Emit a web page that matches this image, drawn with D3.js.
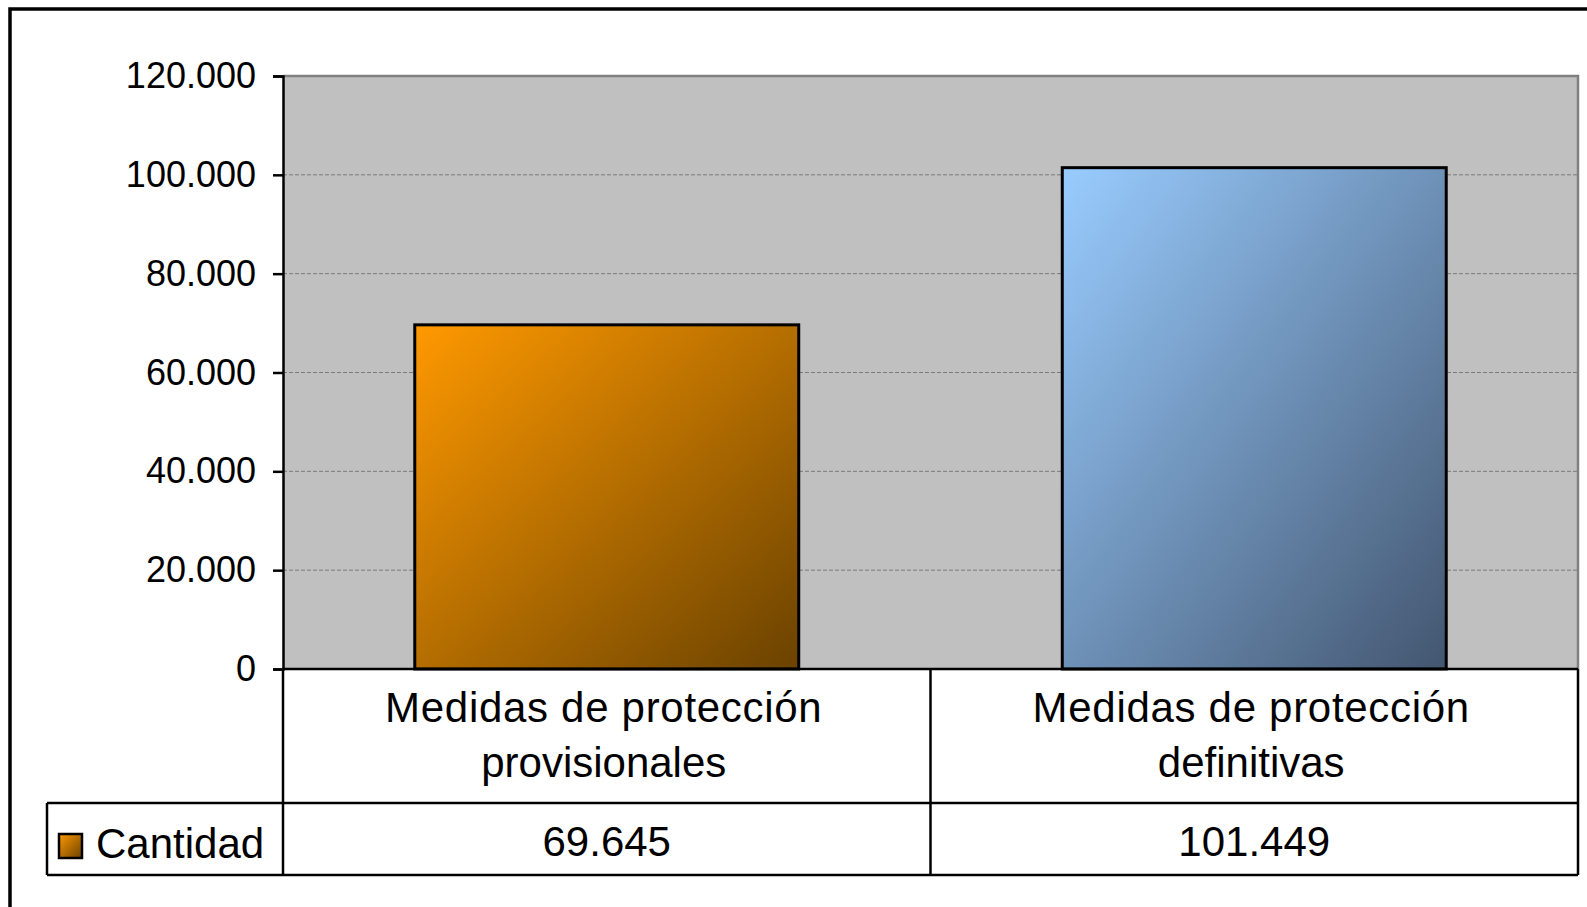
<!DOCTYPE html>
<html>
<head>
<meta charset="utf-8">
<script src="https://cdn.jsdelivr.net/npm/d3@7"></script>
<style>
  html, body { margin: 0; padding: 0; background: #fff; }
  svg { display: block; font-family: "Liberation Sans", Arial, sans-serif; }
</style>
</head>
<body>
<svg id="chart" width="1587" height="907"></svg>
<script>
// ---- data ----
const categories = ["Medidas de protección provisionales", "Medidas de protección definitivas"];
const categoryLines = [["Medidas de protección", "provisionales"], ["Medidas de protección", "definitivas"]];
const seriesName = "Cantidad";
const values = [69645, 101449];
const yTicks = [0, 20000, 40000, 60000, 80000, 100000, 120000];
const barColors = [["#FF9900", "#6A4200"], ["#99CCFF", "#435670"]];

// ---- layout ----
const svg = d3.select("#chart");
const plot = { left: 283, right: 1578, top: 76, bottom: 669 };
const tableRow1Bottom = 803, tableBottom = 875, tableLeft = 47;

const fmt = d3.formatLocale({ decimal: ",", thousands: ".", grouping: [3], currency: ["", ""] }).format(",d");

const y = d3.scaleLinear().domain([0, 120000]).range([plot.bottom, plot.top]);
const x = d3.scaleBand().domain(categories).range([plot.left, plot.right])
  .paddingInner(0.407).paddingOuter(0.2035);

// outer frame (clipped by window)
svg.append("rect").attr("x", 10).attr("y", 9).attr("width", 1700).attr("height", 1000)
  .attr("fill", "none").attr("stroke", "#000").attr("stroke-width", 3.5);

// gradients
const defs = svg.append("defs");
barColors.forEach((c, i) => {
  const g = defs.append("linearGradient").attr("id", "grad" + i)
    .attr("x1", 0).attr("y1", 0).attr("x2", 1).attr("y2", 1);
  g.append("stop").attr("offset", "0%").attr("stop-color", c[0]);
  g.append("stop").attr("offset", "100%").attr("stop-color", c[1]);
});

// plot area background
svg.append("rect").attr("x", plot.left).attr("y", plot.top)
  .attr("width", plot.right - plot.left).attr("height", plot.bottom - plot.top)
  .attr("fill", "#C0C0C0");

// gridlines
svg.append("g").selectAll("line").data(yTicks.filter(d => d > 0 && d < 120000)).join("line")
  .attr("x1", plot.left).attr("x2", plot.right)
  .attr("y1", d => y(d)).attr("y2", d => y(d))
  .attr("stroke", "#7a7a7a").attr("stroke-width", 1).attr("stroke-dasharray", "4,2");

// plot area top and right border (gray)
svg.append("path")
  .attr("d", `M${plot.left},${y(120000)}H${plot.right}V${plot.bottom}`)
  .attr("fill", "none").attr("stroke", "#808080").attr("stroke-width", 2.5);

// bars
svg.append("g").selectAll("rect").data(values).join("rect")
  .attr("x", (d, i) => x(categories[i]))
  .attr("y", d => y(d))
  .attr("width", x.bandwidth())
  .attr("height", d => y(0) - y(d))
  .attr("fill", (d, i) => `url(#grad${i})`)
  .attr("stroke", "#000").attr("stroke-width", 3);

// y axis
const yAxis = d3.axisLeft(y).tickValues(yTicks).tickFormat(fmt).tickSize(10).tickPadding(17);
const ya = svg.append("g").attr("transform", `translate(${plot.left},0)`).call(yAxis);
ya.select(".domain").attr("stroke", "#000").attr("stroke-width", 2.5);
ya.selectAll(".tick line").attr("stroke", "#000").attr("stroke-width", 2.5);
ya.selectAll(".tick text").attr("font-size", 36).attr("fill", "#000")
  .attr("font-family", "'Liberation Sans', Arial, sans-serif");

// data table lines
const step = x.step();
const colEdges = d3.range(categories.length + 1).map(i => plot.left + i * step);
const tbl = svg.append("g").attr("stroke", "#000").attr("stroke-width", 2.5);
tbl.append("line").attr("x1", plot.left).attr("x2", plot.right).attr("y1", plot.bottom).attr("y2", plot.bottom);
tbl.append("line").attr("x1", tableLeft).attr("x2", plot.right).attr("y1", tableRow1Bottom).attr("y2", tableRow1Bottom);
tbl.append("line").attr("x1", tableLeft).attr("x2", plot.right).attr("y1", tableBottom).attr("y2", tableBottom);
tbl.append("line").attr("x1", tableLeft).attr("x2", tableLeft).attr("y1", tableRow1Bottom).attr("y2", tableBottom);
colEdges.forEach(cx => {
  tbl.append("line").attr("x1", cx).attr("x2", cx).attr("y1", plot.bottom).attr("y2", tableBottom);
});

// category labels
categories.forEach((c, i) => {
  const cx = colEdges[i] + step / 2 - 3;
  const t = svg.append("text").attr("text-anchor", "middle").attr("font-size", 42).attr("fill", "#000");
  categoryLines[i].forEach((ln, j) => {
    t.append("tspan").attr("x", cx).attr("y", 722 + j * 55)
      .attr("letter-spacing", j === 0 ? "0.7px" : "0px").text(ln);
  });
});

// values row
values.forEach((v, i) => {
  svg.append("text").attr("x", colEdges[i] + step / 2).attr("y", 856)
    .attr("text-anchor", "middle").attr("font-size", 42).attr("fill", "#000").text(fmt(v));
});

// legend key + series name
svg.append("rect").attr("x", 59).attr("y", 834).attr("width", 23).attr("height", 24)
  .attr("fill", "url(#grad0)").attr("stroke", "#000").attr("stroke-width", 2.5);
svg.append("text").attr("x", 96).attr("y", 858).attr("font-size", 42).attr("fill", "#000").text(seriesName);
</script>
</body>
</html>
